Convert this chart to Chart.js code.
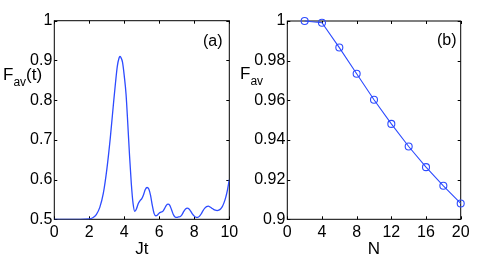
<!DOCTYPE html>
<html>
<head>
<meta charset="utf-8">
<script src="https://cdn.jsdelivr.net/npm/chart.js@4.4.1/dist/chart.umd.min.js"></script>
<style>
  body { margin: 0; background: #fff; }
  #wrap { position: relative; width: 491px; height: 273px; font-family: "Liberation Sans", Arial, sans-serif; }
  canvas { position: absolute; top: 0; }
  .lbl { position: absolute; font-size: 17px; line-height: 17px; color: #000; white-space: nowrap; }
  .lbl span { font-size: 12px; position: relative; top: 6px; }
  .tag { position: absolute; font-size: 16px; line-height: 16px; color: #000; }
</style>
</head>
<body>
<div id="wrap">
  <canvas id="chartA" width="245" height="273" style="left:0"></canvas>
  <canvas id="chartB" width="246" height="273" style="left:245px"></canvas>
  <div class="lbl" style="left:3px; top:66px">F<span>av</span>(t)</div>
  <div class="lbl" style="left:240px; top:65px">F<span>av</span></div>
  <div class="tag" style="left:203px; top:33px">(a)</div>
  <div class="tag" style="left:437px; top:32px">(b)</div>
</div>
<script>
'use strict';

// panel (a): average fidelity vs Jt
const jt = [0, 1, 1.5, 2, 2.2, 2.4, 2.6, 2.8, 3, 3.2, 3.4, 3.5, 3.6, 3.7, 3.75, 3.8, 3.9, 4, 4.1, 4.2,
  4.3, 4.4, 4.5, 4.6, 4.7, 4.8, 4.9, 5, 5.1, 5.2, 5.3, 5.4, 5.5, 5.6, 5.7, 5.8, 5.9, 6, 6.1, 6.2,
  6.3, 6.4, 6.5, 6.6, 6.7, 6.8, 6.9, 7, 7.1, 7.2, 7.3, 7.4, 7.5, 7.6, 7.7, 7.8, 7.9, 8, 8.1, 8.2,
  8.3, 8.4, 8.5, 8.6, 8.7, 8.8, 8.9, 9, 9.1, 9.2, 9.3, 9.4, 9.5, 9.6, 9.7, 9.8, 9.9, 10];
const fidelityT = [0.5, 0.5, 0.5, 0.501, 0.504, 0.512, 0.53, 0.565, 0.625, 0.705, 0.8, 0.845, 0.885, 0.906, 0.91, 0.908, 0.895, 0.86, 0.815, 0.74,
  0.66, 0.59, 0.54, 0.52, 0.527, 0.54, 0.547, 0.552, 0.562, 0.575, 0.58, 0.576, 0.56, 0.535, 0.515, 0.509, 0.511, 0.516, 0.518, 0.52,
  0.527, 0.535, 0.538, 0.535, 0.524, 0.512, 0.506, 0.505, 0.506, 0.507, 0.512, 0.52, 0.526, 0.528, 0.526, 0.52, 0.513, 0.508, 0.505, 0.505,
  0.508, 0.514, 0.522, 0.528, 0.532, 0.533, 0.531, 0.528, 0.525, 0.523, 0.522, 0.523, 0.526, 0.532, 0.542, 0.556, 0.575, 0.6];

// panel (b): average fidelity vs N
const nSites = [2, 4, 6, 8, 10, 12, 14, 16, 18, 20];
const fidelityN = [1.0, 0.9991, 0.9866, 0.9734, 0.9603, 0.9481, 0.9367, 0.9263, 0.9169, 0.908];

// tick labels
const aXTicks = [0, 2, 4, 6, 8, 10];
const aYTicks = [0.5, 0.6, 0.7, 0.8, 0.9, 1];
const bXTicks = [0, 4, 8, 12, 16, 20];
const bYTicks = [0.9, 0.92, 0.94, 0.96, 0.98, 1];

const blue = 'rgb(45,75,255)';
const fontTick = { family: '"Liberation Sans", Arial, sans-serif', size: 16 };
const fontTitle = { family: '"Liberation Sans", Arial, sans-serif', size: 17 };

// box round the plot with small inward ticks on all four sides
const framePlugin = {
  id: 'frame',
  beforeDatasetsDraw(chart) {
    const ctx = chart.ctx;
    const a = chart.chartArea;
    ctx.save();
    ctx.strokeStyle = '#000';
    ctx.lineWidth = 1;
    ctx.strokeRect(a.left, a.top, a.right - a.left, a.bottom - a.top);
    ctx.beginPath();
    chart.scales.x.ticks.forEach(t => {
      const px = Math.round(chart.scales.x.getPixelForValue(t.value)) + 0.5;
      ctx.moveTo(px, a.bottom); ctx.lineTo(px, a.bottom - 3);
      ctx.moveTo(px, a.top); ctx.lineTo(px, a.top + 3);
    });
    chart.scales.y.ticks.forEach(t => {
      const py = Math.round(chart.scales.y.getPixelForValue(t.value)) + 0.5;
      ctx.moveTo(a.left, py); ctx.lineTo(a.left + 3, py);
      ctx.moveTo(a.right, py); ctx.lineTo(a.right - 3, py);
    });
    ctx.stroke();
    ctx.restore();
  }
};

function makeScales(xTicks, yTicks, xTitle, yWidth) {
  return {
    x: {
      type: 'linear',
      min: xTicks[0],
      max: xTicks[xTicks.length - 1],
      afterBuildTicks: s => { s.ticks = xTicks.map(v => ({ value: v })); },
      afterFit: s => { s.height = 53.7; },
      grid: { display: false, drawTicks: false },
      border: { display: false },
      ticks: { color: '#000', font: fontTick, padding: 4, maxRotation: 0, callback: v => String(v) },
      title: { display: true, text: xTitle, color: '#000', font: fontTitle, padding: { top: 0, bottom: 13 } }
    },
    y: {
      type: 'linear',
      min: yTicks[0],
      max: yTicks[yTicks.length - 1],
      afterBuildTicks: s => { s.ticks = yTicks.map(v => ({ value: v })); },
      afterFit: s => { s.width = yWidth; },
      grid: { display: false, drawTicks: false },
      border: { display: false },
      ticks: { color: '#000', font: fontTick, padding: 2, callback: v => String(v) }
    }
  };
}

new Chart(document.getElementById('chartA'), {
  type: 'line',
  data: {
    datasets: [{
      data: jt.map((x, i) => ({ x: x, y: fidelityT[i] })),
      borderColor: blue,
      borderWidth: 1.3,
      pointRadius: 0,
      cubicInterpolationMode: 'monotone',
      fill: false
    }]
  },
  options: {
    responsive: false,
    animation: false,
    layout: { padding: { left: 0, top: 20.7, right: 15.7, bottom: 0 } },
    plugins: { legend: { display: false }, tooltip: { enabled: false } },
    scales: makeScales(aXTicks, aYTicks, 'Jt', 54.3)
  },
  plugins: [framePlugin]
});

new Chart(document.getElementById('chartB'), {
  type: 'line',
  data: {
    datasets: [{
      data: nSites.map((x, i) => ({ x: x, y: fidelityN[i] })),
      borderColor: blue,
      borderWidth: 1.1,
      pointRadius: 3.5,
      pointBorderColor: blue,
      pointBackgroundColor: 'rgba(0,0,0,0)',
      pointBorderWidth: 1.1,
      tension: 0,
      fill: false,
      clip: 6
    }]
  },
  options: {
    responsive: false,
    animation: false,
    layout: { padding: { left: 0, top: 21, right: 30.3, bottom: 0 } },
    plugins: { legend: { display: false }, tooltip: { enabled: false } },
    scales: makeScales(bXTicks, bYTicks, 'N', 42.3)
  },
  plugins: [framePlugin]
});
</script>
</body>
</html>
